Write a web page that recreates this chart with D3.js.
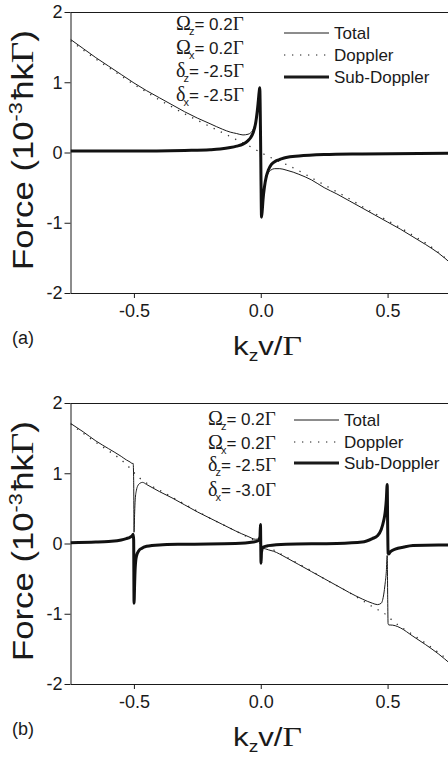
<!DOCTYPE html>
<html>
<head>
<meta charset="utf-8">
<script src="https://cdn.jsdelivr.net/npm/d3@7"></script>
<style>
  body { margin: 0; background: #fff; }
  svg { display: block; }
</style>
</head>
<body>
<div id="chart"></div>
<script>
// ---- data: [k_z v / Gamma, force in 1e-3 hbar k Gamma] ----

// panel (a)
const totalA = [[-0.75,1.61],[-0.70,1.48],[-0.65,1.35],[-0.60,1.23],[-0.55,1.11],[-0.50,0.99],[-0.45,0.88],[-0.40,0.78],[-0.35,0.68],[-0.30,0.58],[-0.25,0.49],[-0.20,0.41],[-0.15,0.33],[-0.12,0.29],[-0.095,0.27],[-0.07,0.25],[-0.05,0.26],[-0.04,0.28],[-0.03,0.33],[-0.02,0.45],[-0.014,0.60],[-0.01,0.73],[-0.006,0.88],[-0.004,0.93],[-0.001,0.3],[0.001,-0.4],[0.003,-0.93],[0.006,-0.83],[0.009,-0.68],[0.015,-0.50],[0.022,-0.37],[0.03,-0.29],[0.04,-0.25],[0.055,-0.23],[0.075,-0.23],[0.10,-0.25],[0.128,-0.28],[0.15,-0.31],[0.20,-0.39],[0.25,-0.50],[0.30,-0.59],[0.35,-0.69],[0.40,-0.79],[0.45,-0.89],[0.50,-0.99],[0.55,-1.09],[0.60,-1.20],[0.65,-1.31],[0.70,-1.43],[0.75,-1.58]];
const dopplerA = [[-0.75,1.59],[-0.70,1.46],[-0.65,1.33],[-0.60,1.21],[-0.55,1.09],[-0.50,0.97],[-0.45,0.86],[-0.40,0.75],[-0.35,0.65],[-0.30,0.55],[-0.25,0.46],[-0.20,0.37],[-0.15,0.28],[-0.10,0.19],[-0.05,0.10],[0,0.0],[0.05,-0.09],[0.10,-0.17],[0.15,-0.26],[0.20,-0.36],[0.25,-0.46],[0.30,-0.56],[0.35,-0.66],[0.40,-0.77],[0.45,-0.87],[0.50,-0.97],[0.55,-1.07],[0.60,-1.18],[0.65,-1.29],[0.70,-1.42],[0.75,-1.57]];
const subA = [[-0.75,0.02],[-0.50,0.02],[-0.30,0.03],[-0.20,0.04],[-0.16,0.05],[-0.12,0.07],[-0.095,0.09],[-0.07,0.12],[-0.05,0.17],[-0.04,0.21],[-0.03,0.28],[-0.02,0.42],[-0.014,0.58],[-0.01,0.72],[-0.006,0.87],[-0.004,0.92],[-0.001,0.3],[0.001,-0.4],[0.003,-0.92],[0.006,-0.82],[0.009,-0.67],[0.015,-0.48],[0.022,-0.34],[0.03,-0.25],[0.042,-0.17],[0.06,-0.12],[0.075,-0.10],[0.10,-0.07],[0.15,-0.05],[0.25,-0.03],[0.40,-0.02],[0.75,-0.01]];

// panel (b)
const totalB = [[-0.75,1.71],[-0.70,1.59],[-0.65,1.46],[-0.60,1.35],[-0.55,1.24],[-0.53,1.19],[-0.515,1.16],[-0.507,1.14],[-0.503,1.14],[-0.501,0.9],[-0.4995,0.16],[-0.497,0.45],[-0.495,0.62],[-0.49,0.76],[-0.485,0.82],[-0.475,0.86],[-0.466,0.87],[-0.45,0.84],[-0.40,0.74],[-0.35,0.65],[-0.30,0.55],[-0.25,0.45],[-0.20,0.36],[-0.15,0.27],[-0.10,0.18],[-0.05,0.10],[-0.02,0.06],[-0.008,0.07],[-0.003,0.12],[-0.0012,0.27],[0.0012,-0.28],[0.003,-0.13],[0.01,-0.07],[0.03,-0.09],[0.05,-0.11],[0.10,-0.20],[0.15,-0.30],[0.20,-0.40],[0.25,-0.50],[0.30,-0.60],[0.35,-0.70],[0.40,-0.79],[0.44,-0.85],[0.46,-0.87],[0.475,-0.85],[0.485,-0.72],[0.49,-0.58],[0.495,-0.40],[0.4985,-0.17],[0.5005,-0.8],[0.502,-1.14],[0.505,-1.16],[0.51,-1.16],[0.53,-1.17],[0.55,-1.20],[0.60,-1.32],[0.65,-1.44],[0.70,-1.57],[0.75,-1.72]];
const dopplerB = [[-0.75,1.70],[-0.70,1.57],[-0.65,1.44],[-0.60,1.32],[-0.55,1.19],[-0.52,1.09],[-0.50,1.01],[-0.48,0.94],[-0.45,0.86],[-0.40,0.76],[-0.35,0.66],[-0.30,0.56],[-0.25,0.46],[-0.20,0.36],[-0.15,0.27],[-0.10,0.18],[-0.05,0.09],[0,0],[0.05,-0.09],[0.10,-0.19],[0.15,-0.29],[0.20,-0.39],[0.25,-0.50],[0.30,-0.60],[0.35,-0.70],[0.40,-0.81],[0.45,-0.92],[0.48,-0.98],[0.50,-1.03],[0.52,-1.10],[0.55,-1.18],[0.60,-1.30],[0.65,-1.42],[0.70,-1.55],[0.75,-1.70]];
const subB = [[-0.75,0.01],[-0.65,0.02],[-0.60,0.03],[-0.55,0.05],[-0.53,0.07],[-0.515,0.09],[-0.507,0.11],[-0.503,0.13],[-0.501,0.05],[-0.4995,-0.85],[-0.497,-0.55],[-0.495,-0.35],[-0.49,-0.18],[-0.48,-0.10],[-0.47,-0.07],[-0.45,-0.04],[-0.40,-0.02],[-0.30,-0.01],[-0.10,0.0],[-0.03,0.02],[-0.01,0.04],[-0.003,0.10],[-0.0012,0.27],[0.0012,-0.28],[0.003,-0.12],[0.01,-0.05],[0.03,-0.03],[0.10,-0.01],[0.30,0.0],[0.40,0.02],[0.44,0.07],[0.46,0.11],[0.475,0.20],[0.485,0.33],[0.49,0.43],[0.495,0.62],[0.4985,0.84],[0.5005,0.2],[0.502,-0.14],[0.505,-0.15],[0.51,-0.12],[0.53,-0.08],[0.565,-0.05],[0.60,-0.03],[0.70,-0.02],[0.75,-0.02]];

// parameters shown in each panel: [symbol, subscript, value]
const paramsA = [["Ω","z","0.2"],["Ω","x","0.2"],["δ","z","-2.5"],["δ","x","-2.5"]];
const paramsB = [["Ω","z","0.2"],["Ω","x","0.2"],["δ","z","-2.5"],["δ","x","-3.0"]];

const legendKeys = ["Total", "Doppler", "Sub-Doppler"];

// ticks
const xMajor = [-0.5, 0.0, 0.5];
const xTickLabels = ["-0.5", "0.0", "0.5"];
const xMinor = [-0.75, -0.25, 0.25, 0.75];
const yMajor = [-2, -1, 0, 1, 2];
const yTickLabels = ["-2", "-1", "0", "1", "2"];
const yMinor = [-1.5, -0.5, 0.5, 1.5];

// ---- layout ----
const width = 448, height = 758;
const plotLeft = 70.5, plotRight = 451, plotH = 281;
const sans = "'Liberation Sans', Arial, Helvetica, sans-serif";
const serif = "'Liberation Serif', 'Times New Roman', serif";
const ink = "#1a1a1a";

const svg = d3.select("#chart").append("svg")
    .attr("width", width)
    .attr("height", height)
    .style("font-family", sans);

const x = d3.scaleLinear().domain([-0.75, 0.75]).range([plotLeft, plotRight]);

// stretch a text element along its own direction to a given length
function fitLength(sel, len) {
  const w = sel.node().getBBox().width;
  sel.attr("transform", sel.attr("transform") + ` scale(${len / w},1)`);
}

function drawPanel(p, idx) {
  const top = p.top;
  const y = d3.scaleLinear().domain([-2, 2]).range([top + plotH, top]);
  const g = svg.append("g");

  g.append("clipPath").attr("id", "clip" + idx)
    .append("rect")
      .attr("x", plotLeft).attr("y", top)
      .attr("width", plotRight - plotLeft).attr("height", plotH);

  // axes
  const xAxisG = g.append("g").attr("transform", `translate(0,${top + plotH})`);
  xAxisG.call(d3.axisBottom(x).tickValues(xMinor).tickSize(3).tickSizeOuter(0).tickFormat(""));
  xAxisG.call(d3.axisBottom(x).tickValues(xMajor).tickSize(5).tickSizeOuter(0).tickPadding(6)
      .tickFormat((d, i) => xTickLabels[i]));

  const yAxisG = g.append("g").attr("transform", `translate(${plotLeft},0)`);
  yAxisG.call(d3.axisLeft(y).tickValues(yMinor).tickSize(3).tickSizeOuter(0).tickFormat(""));
  yAxisG.call(d3.axisLeft(y).tickValues(yMajor).tickSize(6).tickSizeOuter(0).tickPadding(2)
      .tickFormat((d, i) => yTickLabels[i]));

  g.selectAll(".tick text")
      .attr("font-family", sans)
      .attr("font-size", 18)
      .attr("fill", ink);
  g.selectAll(".domain, .tick line").attr("stroke", ink).attr("stroke-width", 1);

  // top frame line
  g.append("line")
      .attr("x1", plotLeft).attr("x2", plotRight)
      .attr("y1", top + 0.5).attr("y2", top + 0.5)
      .attr("stroke", ink).attr("stroke-width", 1);

  const line = d3.line()
      .x(d => x(d[0]))
      .y(d => y(d[1]))
      .curve(d3.curveMonotoneX);

  const curves = g.append("g").attr("clip-path", `url(#clip${idx})`);

  // Doppler - dotted
  curves.append("path")
      .datum(p.doppler)
      .attr("fill", "none")
      .attr("stroke", "#333")
      .attr("stroke-width", 1.3)
      .attr("stroke-dasharray", "1.3,6.7")
      .attr("d", line);

  // Total - thin
  curves.append("path")
      .datum(p.total)
      .attr("fill", "none")
      .attr("stroke", ink)
      .attr("stroke-width", 1)
      .attr("d", line);

  // Sub-Doppler - thick
  curves.append("path")
      .datum(p.sub)
      .attr("fill", "none")
      .attr("stroke", "#111")
      .attr("stroke-width", 3)
      .attr("stroke-linejoin", "round")
      .attr("d", line);

  // parameter block
  p.params.forEach((r, i) => {
    const t = g.append("text")
        .attr("x", p.paramX)
        .attr("y", top + p.paramY[i])
        .attr("fill", ink)
        .attr("font-size", 17);
    t.append("tspan").attr("font-family", serif).attr("font-size", 20).text(r[0]);
    t.append("tspan").attr("font-size", 11).attr("dx", -2).attr("dy", 5).text(r[1]);
    t.append("tspan").attr("dy", -5).text("= " + r[2]);
    t.append("tspan").attr("font-family", serif).attr("font-size", 19).text("Γ");
  });

  // legend
  const lg = g.selectAll(".legend" + idx)
    .data(legendKeys)
    .join("g")
      .attr("transform", (d, i) => `translate(${p.legendX},${top + p.legendY[i]})`);

  lg.append("line")
      .attr("x1", 0).attr("x2", 45)
      .attr("y1", 0).attr("y2", 0)
      .attr("stroke", ink)
      .attr("stroke-width", d => d === "Sub-Doppler" ? 3 : 1)
      .attr("stroke-dasharray", d => d === "Doppler" ? "1.3,6.7" : null);

  lg.append("text")
      .attr("x", 50)
      .attr("y", 6)
      .attr("font-size", 17)
      .attr("fill", ink)
      .text(d => d);

  // panel letter
  g.append("text")
      .attr("x", 12)
      .attr("y", top + 332)
      .attr("font-size", 18)
      .attr("fill", ink)
      .text(p.letter);

  // x title
  const xt = g.append("text")
      .attr("transform", `translate(233,${top + 342.5})`)
      .attr("font-size", 26)
      .attr("fill", ink);
  xt.append("tspan").text("k");
  xt.append("tspan").attr("font-size", 16).attr("dy", 6).text("z");
  xt.append("tspan").attr("dy", -6).text("v/");
  xt.append("tspan").attr("font-family", serif).attr("font-size", 28).text("Γ");
  fitLength(xt, 69);

  // y title
  const yt = g.append("text")
      .attr("transform", `translate(33,${top + 258}) rotate(-90)`)
      .attr("font-size", 29)
      .attr("fill", ink);
  yt.append("tspan").text("Force (10");
  yt.append("tspan").attr("font-size", 18).attr("dy", -11).text("-3");
  yt.append("tspan").attr("dx", 2).attr("dy", 11).text("ħk");
  yt.append("tspan").attr("font-family", serif).attr("font-size", 31).text("Γ");
  yt.append("tspan").text(")");
  fitLength(yt, 240);
}

const panels = [
  {letter: "(a)", top: 12, total: totalA, doppler: dopplerA, sub: subA, params: paramsA,
   paramX: 176, paramY: [18, 42, 65, 89], legendX: 284, legendY: [21, 43, 65]},
  {letter: "(b)", top: 403, total: totalB, doppler: dopplerB, sub: subB, params: paramsB,
   paramX: 208, paramY: [22, 45.5, 68, 93], legendX: 294, legendY: [17, 39, 60]}
];

panels.forEach(drawPanel);
</script>
</body>
</html>
